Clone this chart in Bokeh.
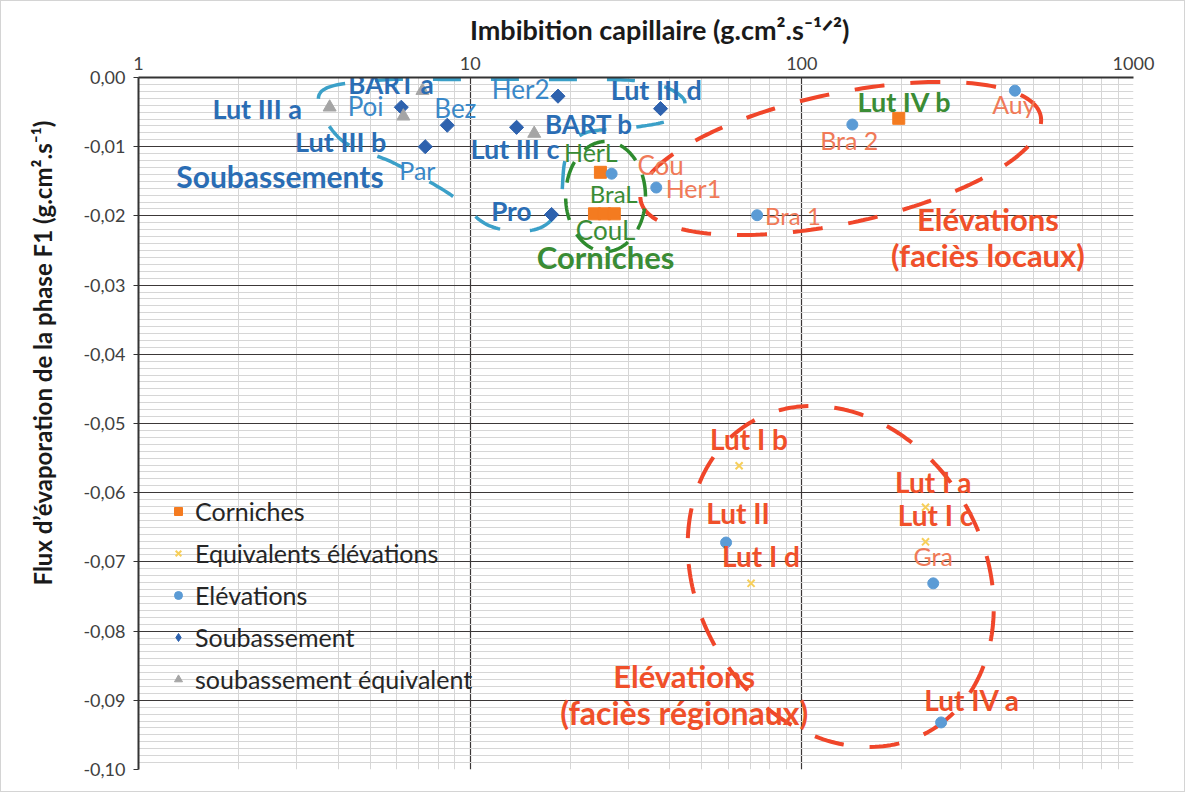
import numpy as np
from bokeh.plotting import figure
from bokeh.models import FixedTicker, CustomJSTickFormatter, Legend, LegendItem, ColumnDataSource, Title
from bokeh.core.properties import value
from bokeh.embed import file_html
from bokeh.resources import INLINE

# ---------------- data ----------------
corniches_x = [24.7, 23.7, 25.4, 27.2, 196]
corniches_y = [-0.0137, -0.0197, -0.0197, -0.0197, -0.0059]

eq_elev_x = [64.7, 70.3, 236, 236]
eq_elev_y = [-0.0561, -0.0731, -0.0621, -0.0671]

elev_x = [26.7, 36.4, 73.3, 142, 439, 59.1, 249, 263]
elev_y = [-0.0139, -0.0159, -0.0199, -0.0068, -0.0019, -0.0672, -0.0731, -0.0932]

soub_x = [6.2, 8.53, 7.32, 18.4, 13.8, 17.6, 37.5]
soub_y = [-0.0043, -0.0069, -0.0100, -0.0027, -0.0072, -0.0198, -0.0045]

soub_eq_x = [3.77, 7.18, 6.29, 15.6]
soub_eq_y = [-0.0043, -0.0019, -0.0056, -0.0081]

x_ticks = [1, 10, 100, 1000]
y_ticks = [0.0, -0.01, -0.02, -0.03, -0.04, -0.05, -0.06, -0.07, -0.08, -0.09, -0.10]

x_title = "Imbibition capillaire (g.cm².s⁻¹ᐟ²)"
y_title = "Flux d’évaporation de la phase F1 (g.cm².s⁻¹)"

# annotation labels: (text, x, y, color, bold, size)
BLUE_B = "#2A6DB4"
BLUE_R = "#3A88C8"
GREEN = "#3A8C35"
RED_B = "#F0502A"
RED_R = "#F07A58"
labels = [
    ("Lut III a", 2.28, -0.00448, BLUE_B, True, 27),
    ("BART a", 5.79, -0.00101, BLUE_B, True, 26),
    ("Poi", 4.84, -0.00419, BLUE_R, False, 26),
    ("Bez", 9.02, -0.00434, BLUE_R, False, 26),
    ("Lut III b", 4.07, -0.00925, BLUE_B, True, 27),
    ("Par", 6.93, -0.0133, BLUE_R, False, 25),
    ("Her2", 14.2, -0.00173, BLUE_R, False, 26),
    ("Lut III c", 13.65, -0.01026, BLUE_B, True, 27),
    ("BART b", 22.8, -0.00679, BLUE_B, True, 26),
    ("Lut III d", 36.4, -0.00173, BLUE_B, True, 27),
    ("Pro", 13.3, -0.01922, BLUE_B, True, 26),
    ("Soubassements", 2.67, -0.0143, BLUE_B, True, 30),
    ("HerL", 23.1, -0.0107, GREEN, False, 25),
    ("BraL", 27.1, -0.0168, GREEN, False, 24),
    ("CouL", 25.6, -0.0221, GREEN, False, 26),
    ("Corniches", 25.6, -0.0260, GREEN, True, 31),
    ("Lut IV b", 204, -0.00347, GREEN, True, 27),
    ("Cou", 37.5, -0.0127, RED_R, False, 26),
    ("Her1", 47.1, -0.0160, RED_R, False, 25),
    ("Bra 1", 94.0, -0.0199, RED_R, False, 24),
    ("Bra 2", 139, -0.0091, RED_R, False, 25),
    ("Auy", 436, -0.00376, RED_R, False, 25),
    ("Elévations", 364, -0.0204, RED_B, True, 31),
    ("(faciès locaux)", 364, -0.0257, RED_B, True, 31),
    ("Lut I b", 69.3, -0.0522, RED_B, True, 28),
    ("Lut II", 64.2, -0.0630, RED_B, True, 28),
    ("Lut I d", 75.3, -0.0692, RED_B, True, 28),
    ("Lut I a", 249, -0.0584, RED_B, True, 28),
    ("Lut I c", 253, -0.0632, RED_B, True, 28),
    ("Gra", 249, -0.0692, RED_R, False, 25),
    ("Elévations", 44.2, -0.0865, RED_B, True, 31),
    ("(faciès régionaux)", 44.2, -0.0918, RED_B, True, 32),
    ("Lut IV a", 326, -0.0899, RED_B, True, 28),
]

# hand-drawn group outlines (annotation shapes)
# ellipses: centre x, centre y, semi-axis A, semi-axis B (in y units), rotation (deg)
ell_regional = (131, -0.0721, 0.0258, 0.0208, -60)
ell_local = (131, -0.0117, 0.0296, 0.0094, 12)
ell_corniches = (25.6, -0.0172, 0.00578, 0.00795, 0)
soub_outline_x = [3.52, 5.15, 9.59, 17.9, 33.3, 43.9, 41.0, 31.1, 22.0, 19.4, 18.5, 15.6, 11.4, 8.65, 5.91, 4.04, 3.52]
soub_outline_y = [-0.00231, -0.00043, -0.00029, -0.00029, -0.00058, -0.00303, -0.00592, -0.00723, -0.00809,
                  -0.0117, -0.0189, -0.0220, -0.0214, -0.0168, -0.0124, -0.00881, -0.0052]

# ---------------- figure ----------------
W, H = 1185, 792
ML, MR, MT, MB = 135, 53, 76, 24
FW, FH = W - ML - MR, H - MT - MB
K = (3.0 / FW) * (FH / 0.1)  # decades per y-unit for equal screen length

FONT = "Lato"

p = figure(width=W, height=H, x_axis_type="log", x_axis_location="above",
           x_range=(1, 1000), y_range=(-0.1, 0.0),
           output_backend="svg", toolbar_location=None, title_location=None,
           min_border_left=ML, min_border_right=MR, min_border_top=MT, min_border_bottom=MB)
p.outline_line_color = None
p.background_fill_color = "white"
p.border_fill_color = "white"
p.styles = {"border": "1px solid #d4d4d4"}

xminor = [k * 10 ** d for d in range(3) for k in range(2, 10)]
yminor = list(np.round(np.arange(-0.1, 0.00001, 0.001), 4))
p.xaxis.ticker = FixedTicker(ticks=x_ticks, minor_ticks=xminor)
p.yaxis.ticker = FixedTicker(ticks=y_ticks, minor_ticks=yminor)
p.yaxis.formatter = CustomJSTickFormatter(code="return tick.toFixed(2).replace('.', ',');")
p.xaxis.formatter = CustomJSTickFormatter(code="return Math.round(tick).toString();")

for g in (p.xgrid, p.ygrid):
    g.grid_line_color = "#3c3838"
    g.grid_line_width = 1.2
    g.minor_grid_line_color = "#d6d6d6"
    g.minor_grid_line_width = 1

for ax in (p.xaxis, p.yaxis):
    ax.major_label_text_font = FONT
    ax.major_label_text_font_size = "18px"
    ax.major_label_text_color = "#404040"
    ax.minor_tick_line_color = None
    ax.axis_line_color = "#333333"
    ax.axis_line_width = 2
    ax.major_tick_line_color = "#333333"
p.xaxis.major_tick_out = 0
p.xaxis.major_tick_in = 0
p.xaxis.major_label_standoff = 4
p.yaxis.major_tick_out = 5
p.yaxis.major_tick_in = 0
p.yaxis.major_label_standoff = 8

# x title: axis label, nudged right of the frame centre with leading em spaces
p.xaxis.axis_label = "\u2003\u2003\u2005" + x_title
p.xaxis.axis_label_text_font = FONT
p.xaxis.axis_label_text_font_style = "bold"
p.xaxis.axis_label_text_font_size = "27px"
p.xaxis.axis_label_text_color = "#1a1a1a"
p.xaxis.axis_label_standoff = 8

# y title, shifted upward like the reference
p.add_layout(Title(text=y_title, align="left", offset=184, text_font=FONT, text_font_style="bold",
                   text_font_size="24px", text_color="#1a1a1a", standoff=48), "left")


def ellipse_pts(params, n=240):
    cx, cy, A, B, ang = params
    t = np.linspace(0, 2 * np.pi, n)
    th = np.radians(ang)
    u, v = A * np.cos(t), B * np.sin(t)
    du = u * np.cos(th) - v * np.sin(th)
    dv = u * np.sin(th) + v * np.cos(th)
    return 10 ** (np.log10(cx) + du * K), cy + dv


def closed_spline(xs, ys, steps=20):
    P = np.column_stack([np.log10(xs[:-1]), ys[:-1]])
    n = len(P)
    out = []
    for i in range(n):
        p0, p1, p2, p3 = P[(i - 1) % n], P[i], P[(i + 1) % n], P[(i + 2) % n]
        for t in np.linspace(0, 1, steps, endpoint=False):
            t2, t3 = t * t, t * t * t
            out.append(0.5 * ((2 * p1) + (-p0 + p2) * t + (2 * p0 - 5 * p1 + 4 * p2 - p3) * t2
                              + (-p0 + 3 * p1 - 3 * p2 + p3) * t3))
    out.append(out[0])
    out = np.array(out)
    return 10 ** out[:, 0], out[:, 1]


# outlines
ex, ey = ellipse_pts(ell_regional)
p.line(ex, ey, line_color="#F0462A", line_width=4, line_dash="30 26")
ex, ey = ellipse_pts(ell_local)
p.line(ex, ey, line_color="#F0462A", line_width=4, line_dash="30 26")
ex, ey = ellipse_pts(ell_corniches)
p.line(ex, ey, line_color="#2E8B2E", line_width=3.5, line_dash="22 16")
sx, sy = closed_spline(soub_outline_x, soub_outline_y)
p.line(sx, sy, line_color="#3BA0C8", line_width=3.5, line_dash="28 30")

# series
r_corn = p.scatter(corniches_x, corniches_y, marker="square", size=12, fill_color="#F47B20", line_color="#F47B20")
r_eq = p.scatter(eq_elev_x, eq_elev_y, marker="x", size=10, line_color="#F7CF5A", line_width=2)
r_el = p.scatter(elev_x, elev_y, marker="circle", size=11, fill_color="#5B9BD5", line_color="#5B9BD5")
r_sb = p.scatter(soub_x, soub_y, marker="square", size=10, angle=np.pi / 4,
                 fill_color="#2E62AE", line_color="#2E62AE")
r_se = p.scatter(soub_eq_x, soub_eq_y, marker="triangle", size=13, fill_color="#A5A5A5", line_color="#A5A5A5")
# legend swatch for the diamond series (not drawn in the plot: NaN position)
r_sb_leg = p.scatter([np.nan], [np.nan], marker="diamond", size=14, fill_color="#2E62AE", line_color="#2E62AE")

# labels
for bold in (True, False):
    for size in sorted(set(l[5] for l in labels)):
        sub = [l for l in labels if l[4] == bold and l[5] == size]
        if not sub:
            continue
        src = ColumnDataSource(dict(t=[l[0] for l in sub], x=[l[1] for l in sub], y=[l[2] for l in sub],
                                    c=[l[3] for l in sub]))
        p.text(x="x", y="y", text="t", source=src, text_color="c", text_align="center",
               text_baseline="middle", text_font=value(FONT),
               text_font_style="bold" if bold else "normal", text_font_size=f"{size}px")

legend = Legend(items=[
    LegendItem(label="Corniches", renderers=[r_corn]),
    LegendItem(label="Equivalents élévations", renderers=[r_eq]),
    LegendItem(label="Elévations", renderers=[r_el]),
    LegendItem(label="Soubassement", renderers=[r_sb_leg]),
    LegendItem(label="soubassement équivalent", renderers=[r_se]),
], location=(30, 75))
legend.background_fill_alpha = 0
legend.border_line_color = None
legend.label_text_font = FONT
legend.label_text_font_size = "25px"
legend.label_text_color = "#262626"
legend.glyph_width = 20
legend.glyph_height = 30
legend.label_height = 30
legend.spacing = 12
legend.padding = 5
legend.label_standoff = 7
p.add_layout(legend)

open("out.html", "w").write(file_html(p, INLINE))
